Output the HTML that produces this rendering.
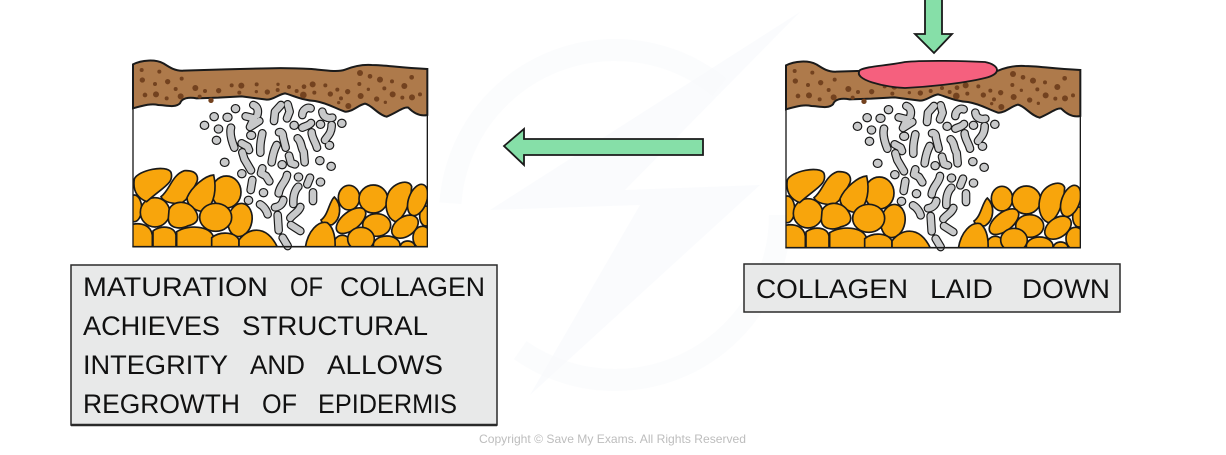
<!DOCTYPE html>
<html><head><meta charset="utf-8"><style>
html,body{margin:0;padding:0;background:#fff;width:1226px;height:455px;overflow:hidden}
svg{display:block}
.t{font-family:"Liberation Sans",sans-serif;font-size:27px;fill:#111}
</style></head><body>
<svg width="1226" height="455" viewBox="0 0 1226 455" xmlns="http://www.w3.org/2000/svg">
<defs>
<clipPath id="c"><rect x="24" y="15" width="883" height="560"/></clipPath>
<g id="gd" fill="none" stroke-linecap="round" stroke-linejoin="round">
<path d="M331 161h1M267 185h1M306 187h3M238 211h1M280 222h1M274 256h1M298 322h2M350 356h1M507 211h1M586 208h1M650 205h1M613 271h1M584 317h1M618 334h1M471 329h1M586 381h1M520 366h1M415 413h1M370 436h1M377 241h3"/>
</g>
<g id="gb" fill="none" stroke-linecap="round" stroke-linejoin="round">
<path d="M385 150c15 5 15 20 12 30M362 184l25 6-12 26 28-18"/>
<path d="M447 198l3-28 18-20M488 148l6 22-8 20"/>
<path d="M532 180c0-15 15-25 25-20M592 170c2 15 15 22 30 18"/>
<path d="M532 218c10-5 20-6 26-14M600 255c8-12 20-20 20-45"/>
<path d="M318 218c-4 15 0 35 10 60M350 265l18 10 4 10"/>
<path d="M412 235c-2 15-8 25-6 58M462 232c8-3 12 5 12 14l8 32"/>
<path d="M518 250c12 10 10 30 18 40l3 32M560 232c0 15 12 30 16 46"/>
<path d="M455 270c-8 15-12 30-15 52M352 292l6 20 20 34M492 302l6 22 12 4"/>
<path d="M412 340l-4 15 15 8 10 16M382 375l-5 30M486 360c-2 20-22 30-25 55M555 368l-8 20"/>
<path d="M520 395c-10 10-16 25-15 52M564 412v26M405 448c10 5 20 18 23 30M475 435c-2 10-10 20-25 22"/>
<path d="M526 456c-5 15-20 20-30 33M458 480l3 46M498 510l28 18M473 548l15 25"/>
</g>
<g id="skin">
<path d="M24 28C50 15 90 12 115 25C135 38 150 48 175 47L300 43L430 40C480 38 520 40 560 42C600 46 640 52 660 44C680 36 710 28 740 30C780 30 820 38 907 42V180C890 184 870 178 850 158C835 155 820 170 785 185C760 180 740 150 720 146C700 150 680 172 660 170C630 160 610 145 570 138C530 136 500 120 480 115C460 118 445 135 425 134L350 124L280 128L215 130C190 125 170 130 165 145C150 160 120 150 100 150C80 145 60 150 24 160Z" fill="#ae7a4b" stroke="#1a1a1a" stroke-width="6"/>
<g fill="#73421f">
<circle cx="50" cy="45" r="6"/><circle cx="103" cy="50" r="6"/><circle cx="52" cy="75" r="8"/><circle cx="90" cy="87" r="6"/><circle cx="128" cy="80" r="8"/><circle cx="170" cy="71" r="6"/><circle cx="60" cy="120" r="7"/><circle cx="93" cy="118" r="9"/><circle cx="125" cy="130" r="6"/><circle cx="152" cy="102" r="6"/><circle cx="167" cy="124" r="9"/><circle cx="211" cy="99" r="9"/><circle cx="224" cy="125" r="6"/><circle cx="240" cy="108" r="6"/><circle cx="258" cy="136" r="8"/><circle cx="281" cy="107" r="8"/><circle cx="320" cy="91" r="6"/><circle cx="349" cy="92" r="9"/><circle cx="343" cy="113" r="6"/><circle cx="395" cy="88" r="6"/><circle cx="394" cy="110" r="5"/><circle cx="427" cy="111" r="8"/><circle cx="459" cy="88" r="5"/><circle cx="458" cy="105" r="6"/><circle cx="492" cy="96" r="6"/><circle cx="515" cy="108" r="6"/><circle cx="537" cy="95" r="7"/><circle cx="535" cy="120" r="10"/><circle cx="563" cy="88" r="9"/><circle cx="568" cy="113" r="6"/><circle cx="601" cy="91" r="6"/><circle cx="616" cy="117" r="8"/><circle cx="637" cy="104" r="6"/><circle cx="648" cy="130" r="6"/><circle cx="668" cy="110" r="8"/><circle cx="670" cy="153" r="9"/><circle cx="705" cy="54" r="9"/><circle cx="735" cy="64" r="7"/><circle cx="765" cy="74" r="9"/><circle cx="801" cy="79" r="6"/><circle cx="860" cy="67" r="7"/><circle cx="703" cy="87" r="6"/><circle cx="730" cy="103" r="5"/><circle cx="778" cy="100" r="6"/><circle cx="838" cy="93" r="9"/><circle cx="707" cy="123" r="9"/><circle cx="755" cy="132" r="8"/><circle cx="803" cy="118" r="9"/><circle cx="781" cy="142" r="5"/><circle cx="832" cy="128" r="6"/><circle cx="861" cy="127" r="9"/><circle cx="885" cy="118" r="6"/><circle cx="641" cy="143" r="5"/>
</g>
<use href="#gb" stroke="#1a1a1a" stroke-width="26"/>
<use href="#gd" stroke="#1a1a1a" stroke-width="28"/>
<use href="#gb" stroke="#c8c9ca" stroke-width="19"/>
<use href="#gd" stroke="#c8c9ca" stroke-width="21"/>
<g clip-path="url(#c)" fill="#f8a50c" stroke="#1a1a1a" stroke-width="5">
<ellipse cx="28" cy="460" rx="22" ry="40"/>
<ellipse cx="90" cy="472" rx="44" ry="44"/>
<path d="M28 372C40 345 125 328 138 352C148 385 115 395 65 440C40 430 22 410 28 372Z"/>
<path d="M108 425C135 405 140 360 178 347C222 345 222 372 212 388C195 420 180 445 160 446C135 445 115 440 108 425Z"/>
<ellipse cx="345" cy="495" rx="36" ry="50" transform="rotate(10 345 495)"/>
<ellipse cx="304" cy="411" rx="44" ry="48"/>
<path d="M186 428C200 395 240 362 266 360C275 400 270 445 240 470C215 470 186 455 186 428Z"/>
<path d="M132 465C140 438 185 432 208 462C225 485 222 505 190 512C165 525 130 520 130 490Z"/>
<ellipse cx="272" cy="487" rx="48" ry="42"/>
<path d="M22 508C50 502 78 512 82 540V582H22Z"/>
<path d="M84 528C105 510 148 512 153 540V582H84Z"/>
<path d="M155 530C190 508 255 512 265 545V582H155Z"/>
<path d="M260 548C285 528 330 530 342 555V582H260Z"/>
<path d="M342 555C365 522 422 502 458 578V582H342Z"/>
<path d="M588 495C610 480 612 440 628 426C652 450 648 492 622 509C605 512 592 508 588 495Z"/>
<ellipse cx="672" cy="428" rx="32" ry="37"/>
<ellipse cx="745" cy="432" rx="43" ry="42"/>
<ellipse cx="902" cy="483" rx="18" ry="30"/>
<ellipse cx="678" cy="497" rx="52" ry="27" transform="rotate(-38 678 497)"/>
<path d="M788 420C798 385 852 368 860 395C858 440 838 492 810 500C783 487 778 450 788 420Z"/>
<ellipse cx="878" cy="435" rx="27" ry="49" transform="rotate(20 878 435)"/>
<ellipse cx="755" cy="510" rx="42" ry="34"/>
<ellipse cx="840" cy="515" rx="44" ry="29" transform="rotate(-35 840 515)"/>
<ellipse cx="652" cy="565" rx="25" ry="24"/>
<path d="M541 578C548 528 580 496 607 503C628 520 632 550 630 582H541Z"/>
<ellipse cx="708" cy="552" rx="40" ry="35"/>
<ellipse cx="785" cy="570" rx="40" ry="27"/>
<ellipse cx="848" cy="575" rx="22" ry="17"/>
<ellipse cx="892" cy="548" rx="28" ry="34"/>
</g>
<path d="M24 160V28M907 42V575M24 575V160" fill="none" stroke="#1a1a1a" stroke-width="4"/>
<path d="M22 575H909" stroke="#1a1a1a" stroke-width="5"/>
</g>
</defs>

<!-- watermark -->
<path d="M800 12L490 210L640 205L530 395L760 185L625 190Z" fill="#f7f9fb" opacity=".6"/>
<circle cx="615" cy="215" r="165" fill="none" stroke="#f8fafc" stroke-width="22" stroke-dasharray="360 170" opacity=".5"/>

<use href="#skin" transform="translate(125 55) scale(.33333)"/>
<use href="#skin" transform="translate(778 56) scale(.33333)"/>

<!-- pink clot -->
<path d="M860 70C868 66 885 66 905 62C925 60 965 61 985 62C1000 65 1002 74 985 78C960 84 925 87 905 88C885 87 852 80 860 70Z" fill="#f5607e" stroke="#1a1a1a" stroke-width="1.8"/>

<!-- arrows -->
<path d="M925 -2H942V34H952L934 53L915 34H925Z" fill="#86dfa8" stroke="#1a1a1a" stroke-width="1.8"/>
<path d="M703 139V155H524V165L504 146L524 129V139Z" fill="#86dfa8" stroke="#1a1a1a" stroke-width="1.8"/>

<!-- left box -->
<rect x="71" y="265" width="426" height="160" fill="#e8e9e9" stroke="#2a2a2a" stroke-width="1.5"/>
<path d="M71 425H497" stroke="#2a2a2a" stroke-width="2.5"/>
<g class="t">
<text x="83" y="296" textLength="185" lengthAdjust="spacingAndGlyphs">MATURATION</text>
<text x="290" y="296" textLength="33" lengthAdjust="spacingAndGlyphs">OF</text>
<text x="340" y="296" textLength="145" lengthAdjust="spacingAndGlyphs">COLLAGEN</text>
<text x="83" y="335" textLength="137" lengthAdjust="spacingAndGlyphs">ACHIEVES</text>
<text x="242" y="335" textLength="186" lengthAdjust="spacingAndGlyphs">STRUCTURAL</text>
<text x="83" y="374" textLength="145" lengthAdjust="spacingAndGlyphs">INTEGRITY</text>
<text x="250" y="374" textLength="55" lengthAdjust="spacingAndGlyphs">AND</text>
<text x="327" y="374" textLength="116" lengthAdjust="spacingAndGlyphs">ALLOWS</text>
<text x="83" y="413" textLength="157" lengthAdjust="spacingAndGlyphs">REGROWTH</text>
<text x="262" y="413" textLength="35" lengthAdjust="spacingAndGlyphs">OF</text>
<text x="318" y="413" textLength="139" lengthAdjust="spacingAndGlyphs">EPIDERMIS</text>
</g>

<!-- right box -->
<rect x="744" y="264" width="376" height="48" fill="#e8e9e9" stroke="#2a2a2a" stroke-width="1.5"/>
<g class="t">
<text x="756" y="298" textLength="152" lengthAdjust="spacingAndGlyphs">COLLAGEN</text>
<text x="930" y="298" textLength="63" lengthAdjust="spacingAndGlyphs">LAID</text>
<text x="1022" y="298" textLength="88" lengthAdjust="spacingAndGlyphs">DOWN</text>
</g>

<text x="479" y="443" font-family="Liberation Sans, sans-serif" font-size="12" fill="#bdbdbd" textLength="267" lengthAdjust="spacingAndGlyphs">Copyright © Save My Exams. All Rights Reserved</text>
</svg>
</body></html>
